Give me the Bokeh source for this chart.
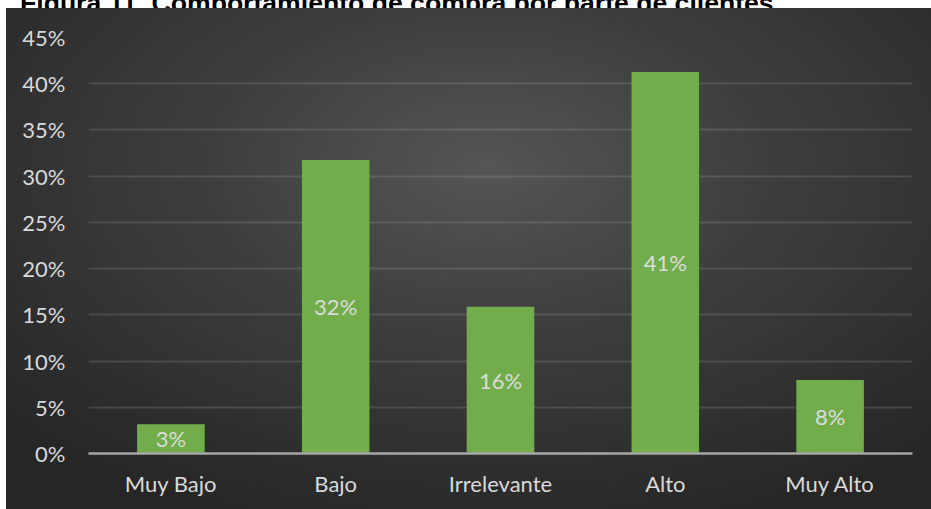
from bokeh.plotting import figure
from bokeh.layouts import column
from bokeh.models import FixedTicker, PrintfTickFormatter, ColumnDataSource, LabelSet, FactorRange, Div
from bokeh.embed import file_html
from bokeh.resources import INLINE
from bokeh.core.properties import value

title_text = "Figura 11. Comportamiento de compra por parte de clientes"
categories = ["Muy Bajo", "Bajo", "Irrelevante", "Alto", "Muy Alto"]
percent_values = [3.17, 31.75, 15.87, 41.27, 7.94]
bar_labels = ["3%", "32%", "16%", "41%", "8%"]
y_ticks = [0, 5, 10, 15, 20, 25, 30, 35, 40, 45]

W = 931
TOP = 8
H = 509 - TOP
FRAME_L, FRAME_R, FRAME_T, FRAME_B = 88, 912, 37 - TOP, 453 - TOP

src = ColumnDataSource(dict(
    cat=categories,
    val=percent_values,
    mid=[v / 2 for v in percent_values],
    lab=bar_labels,
))

title_div = Div(
    text=('<div style="font-family:\'Liberation Sans\';font-weight:bold;font-size:26.6px;'
          'line-height:27px;color:#000;white-space:nowrap;margin:-22px 0 0 20px;">'
          + title_text + '</div>'),
    width=W, height=TOP, margin=(0, 0, 0, 0),
    styles={"overflow": "hidden", "background-color": "white"},
)

p = figure(
    width=W, height=H,
    x_range=FactorRange(*categories, range_padding=0),
    y_range=(0, 45),
    output_backend="svg", toolbar_location=None,
    min_border_left=FRAME_L, min_border_right=W - FRAME_R,
    min_border_top=FRAME_T, min_border_bottom=H - FRAME_B,
    margin=(0, 0, 0, 0),
)
p.border_fill_color = None
p.background_fill_color = None
p.outline_line_color = None
p.styles = {
    "background-color": "white",
    "background-image": "radial-gradient(ellipse 70% 75% at 52% 32%, #555555 0%, #3d3d3d 45%, #262626 100%)",
    "background-repeat": "no-repeat",
    "background-position": "6px 0px",
    "background-size": "925px 501px",
}

p.vbar(x="cat", top="val", width=0.41, source=src, fill_color="#71ad4a", line_color=None)

labels = LabelSet(x="cat", y="mid", text="lab", source=src,
                  text_align="center", text_baseline="middle",
                  text_color="#dcdcdc", text_font=value("Lato"), text_font_size="22px")
p.add_layout(labels)

p.yaxis.ticker = FixedTicker(ticks=y_ticks)
p.yaxis.formatter = PrintfTickFormatter(format="%d%%")
p.yaxis.axis_line_color = None
p.yaxis.major_tick_line_color = None
p.yaxis.minor_tick_line_color = None
p.yaxis.major_label_standoff = 17
p.yaxis.major_label_text_font = "Lato"
p.yaxis.major_label_text_font_size = "22px"
p.yaxis.major_label_text_color = "#d9d9d9"

p.xaxis.axis_line_color = "#a6a6a6"
p.xaxis.axis_line_width = 2.5
p.xaxis.major_tick_line_color = None
p.xaxis.minor_tick_line_color = None
p.xaxis.major_label_standoff = 10
p.xaxis.major_label_text_font = "Lato"
p.xaxis.major_label_text_font_size = "22px"
p.xaxis.major_label_text_color = "#d9d9d9"

p.xgrid.grid_line_color = None
p.ygrid.grid_line_color = "#ffffff"
p.ygrid.grid_line_alpha = 0.12
p.ygrid.grid_line_width = 2

layout = column(title_div, p, spacing=0, margin=(0, 0, 0, 0))
open("out.html", "w").write(file_html(layout, INLINE))
